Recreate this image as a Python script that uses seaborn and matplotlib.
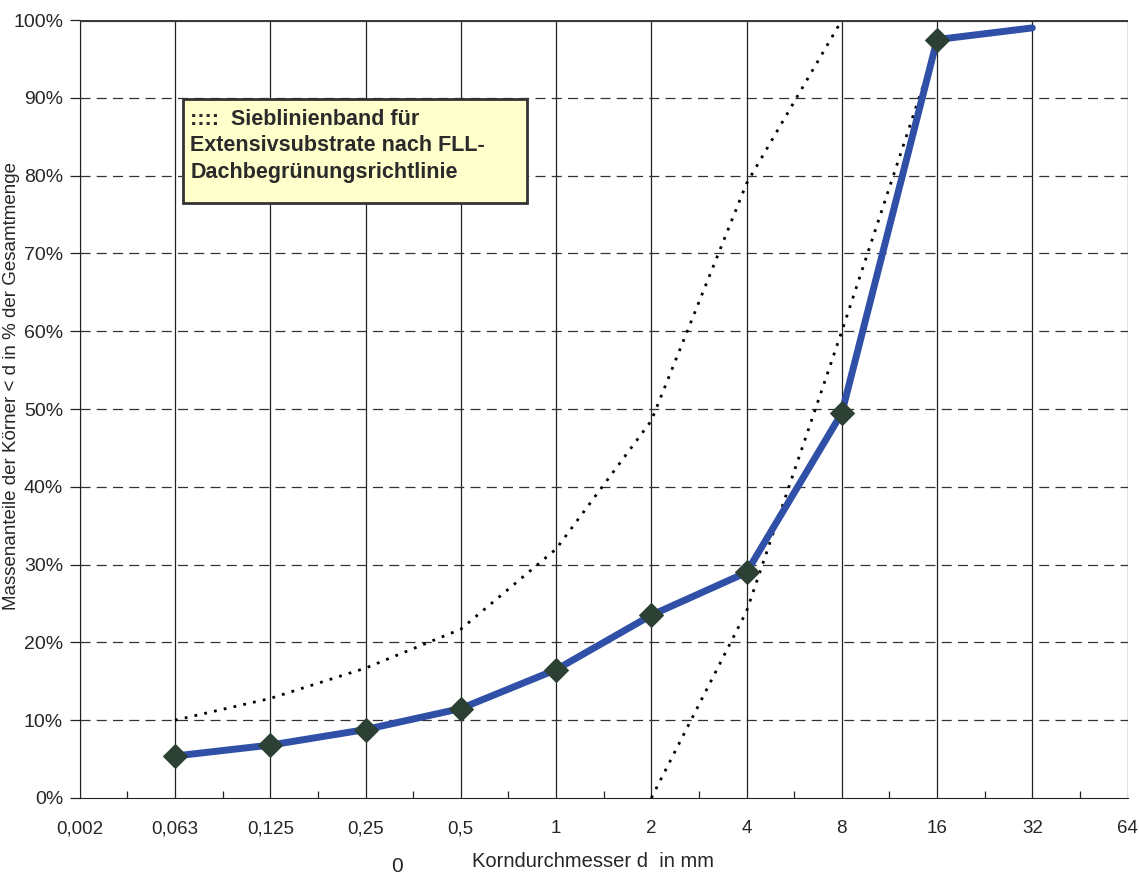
import numpy as np
import pandas as pd
import matplotlib.pyplot as plt
import seaborn as sns
from matplotlib.patches import Rectangle

# Sieblinie: Korngroessen (Kategorien, gleichabstaendig) und Durchgang in %
sizes = ['0,002', '0,063', '0,125', '0,25', '0,5', '1', '2', '4', '8', '16', '32', '64']
probe = [np.nan, 5.4, 6.8, 8.8, 11.5, 16.5, 23.5, 29.0, 49.5, 97.5, 99.0, np.nan]
fll_upper = [np.nan, 10.0, 12.8, 16.7, 21.7, 32.0, 48.5, 79.0, 100.0, np.nan, np.nan, np.nan]
fll_lower = [np.nan, np.nan, np.nan, np.nan, np.nan, np.nan, 0.0, 24.0, 60.0, 97.0, np.nan, np.nan]

df = pd.DataFrame({'pos': range(len(sizes)), 'size': sizes,
                   'probe': probe, 'upper': fll_upper, 'lower': fll_lower})

sns.set_style('white')
plt.rcParams['font.family'] = ['Liberation Sans', 'DejaVu Sans']

fig, ax = plt.subplots(figsize=(11.39, 8.75), dpi=100)
fig.subplots_adjust(left=0.07, right=0.99, bottom=0.088, top=0.977)

# gitter
for x in df['pos']:
    ax.axvline(x, color='#222222', lw=0.9, zorder=1)
for y in range(10, 100, 10):
    ax.axhline(y, color='#333333', lw=0.9, ls=(0, (8, 5)), zorder=1)
ax.axhline(100, color='#3a3a3a', lw=3, zorder=4)

# FLL-Band (gepunktet)
up = df.dropna(subset=['upper'])
lo = df.dropna(subset=['lower'])
sns.lineplot(data=up, x='pos', y='upper', ax=ax, color='black', lw=2,
             linestyle=(0, (1, 2.6)), sort=False, estimator=None, zorder=3)
sns.lineplot(data=lo, x='pos', y='lower', ax=ax, color='black', lw=2,
             linestyle=(0, (1, 2.6)), sort=False, estimator=None, zorder=3)

# Probe
pr = df.dropna(subset=['probe'])
sns.lineplot(data=pr, x='pos', y='probe', ax=ax, color='#3050A8', lw=5,
             marker='D', markersize=12, markerfacecolor='#2D4034',
             markeredgecolor='#2D4034', markevery=list(range(len(pr) - 1)),
             sort=False, estimator=None, zorder=5)

ax.set_xlim(0, len(sizes) - 1)
ax.set_ylim(0, 100)
ax.set_xticks(df['pos'], sizes)
ax.set_xticks(df['pos'][:-1] + 0.5, minor=True)
ax.set_yticks(range(0, 101, 10), [f'{v}%' for v in range(0, 101, 10)])
ax.tick_params(axis='x', which='major', direction='out', length=8, width=0.9,
               labelsize=13.5, pad=8, color='#222222')
ax.tick_params(axis='x', which='minor', direction='in', length=5, width=0.9,
               color='#222222', bottom=True)
ax.tick_params(axis='y', direction='out', length=7, width=0.9, labelsize=14,
               left=True, color='#222222', pad=5)
for s in ['top', 'right']:
    ax.spines[s].set_visible(False)
ax.spines['left'].set_color('#222222')
ax.spines['bottom'].set_color('#222222')

ax.set_xlabel('Korndurchmesser d  in mm', fontsize=14.5)
ax.xaxis.set_label_coords(0.49, -0.07)
ax.set_ylabel('Massenanteile der Körner < d in % der Gesamtmenge', fontsize=13.5,
              labelpad=0)
ax.yaxis.set_label_coords(-0.057, 0.53)
fig.text(0.343, 0.004, '0', fontsize=15)

# Legendenkasten
ax.add_patch(Rectangle((1.08, 76.5), 3.62, 13.4, facecolor='#FFFFCC',
                       edgecolor='#333333', linewidth=2, zorder=6))
ax.text(1.16, 88.6, '::::  Sieblinienband für\nExtensivsubstrate nach FLL-\nDachbegrünungsrichtlinie',
        fontsize=15.5, fontweight='bold', color='#2a2a2a', va='top', ha='left',
        linespacing=1.35, zorder=7)

plt.savefig('out.png', dpi=100)
